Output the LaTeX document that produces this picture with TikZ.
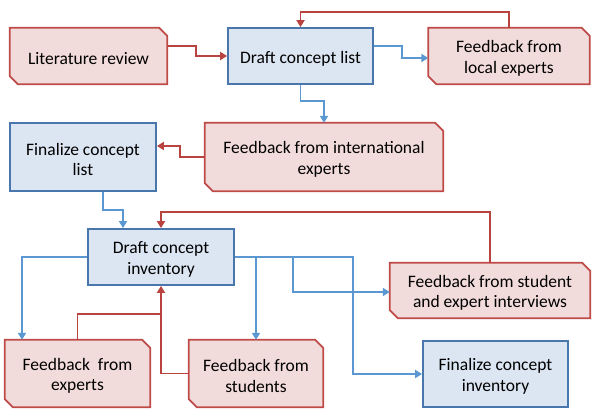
\documentclass[tikz,border=0pt]{standalone}
\usepackage{fontspec}
\setmainfont{Carlito}
\usetikzlibrary{arrows.meta,backgrounds,calc}
\definecolor{rbord}{HTML}{BE4B48}
\definecolor{rfill}{HTML}{F2DCDB}
\definecolor{bbord}{HTML}{4A76AE}
\definecolor{bfill}{HTML}{DCE6F2}
\definecolor{barr}{HTML}{5B97D0}
\definecolor{rarr}{HTML}{B8433F}
\tikzset{
  x=1pt,y=-1pt,
  txtstyle/.style={inner sep=0pt, align=center, font=\fontsize{17.5}{20.5}\selectfont, yshift=-2.5pt},
  box/.style={inner sep=0pt, label={[txtstyle]center:{#1}}},
  bluebox/.style={box=#1, draw=bbord, fill=bfill, line width=1.8pt},
  redbox/.style={box=#1},
  barrow/.style={draw=barr, line width=1.8pt, -{Triangle[length=7pt,width=8pt]}},
  rarrow/.style={draw=rarr, line width=1.8pt, -{Triangle[length=7pt,width=8pt]}},
  redlink/.style={draw=rarr, line width=1.8pt},
}
\newcommand{\cutshape}[1]{%
  \draw[draw=rbord, fill=rfill, line width=1.8pt, line join=miter]
    (#1.north west) -- ([xshift=-8pt]#1.north east) -- ([yshift=-8pt]#1.north east)
    -- (#1.south east) -- ([xshift=8pt]#1.south west) -- ([yshift=8pt]#1.south west) -- cycle;}
\begin{document}
\begin{tikzpicture}
\useasboundingbox (0,0) rectangle (592,413);
% nodes
\node[redbox={Literature review}, minimum width=157pt, minimum height=56pt] (lit) at (88.5,56) {};
\node[bluebox={Draft concept list}, minimum width=145pt, minimum height=56pt] (dcl) at (300.5,56) {};
\node[redbox={Feedback from\\local experts}, minimum width=161pt, minimum height=56pt] (loc) at (509,56) {};
\node[bluebox={Finalize concept\\list}, minimum width=146pt, minimum height=68pt] (fcl) at (83,157) {};
\node[redbox={Feedback from international\\experts}, minimum width=238pt, minimum height=68pt] (intl) at (324,157) {};
\node[bluebox={Draft concept\\inventory}, minimum width=146pt, minimum height=56pt] (dci) at (161,257) {};
\node[redbox={Feedback from student\\and expert interviews}, minimum width=200pt, minimum height=55pt] (int) at (490,290.5) {};
\node[redbox={Feedback\ \ from\\experts}, minimum width=145pt, minimum height=67pt] (fe) at (77.5,373.5) {};
\node[redbox={Feedback from\\students}, minimum width=134pt, minimum height=67pt] (fs) at (256,373.5) {};
\node[bluebox={Finalize concept\\inventory}, minimum width=145pt, minimum height=66pt] (fci) at (495.5,374) {};
\begin{scope}[on background layer]
\cutshape{lit}\cutshape{loc}\cutshape{intl}\cutshape{int}\cutshape{fe}\cutshape{fs}
\end{scope}
% connectors
\draw[rarrow] ([yshift=10pt]lit.east) -- ++(29,0) |- (dcl.west);
\draw[rarrow] (loc.north) -- ++(0,-16) -| (dcl.north);
\draw[barrow] ([yshift=10pt]dcl.east) -- ++(28,0) |- ([yshift=-2pt]loc.west);
\draw[barrow] (dcl.south) -- ++(0,16) -| (intl.north);
\draw[rarrow] (intl.west) -- ++(-25,0) |- ([yshift=11pt]fcl.east);
\draw[barrow] ([xshift=20pt]fcl.south) -- ++(0,18) -| ([xshift=-38pt]dci.north);
\draw[rarrow] (int.north) -- ++(0,-51) -| (dci.north);
\draw[barrow] (dci.west) -| ([xshift=-55.5pt]fe.north);
\coordinate (b1) at ($(dci.east)+(58,0)$);
\draw[barrow] (dci.east) -- ++(118,0) |- (fci.west);
\draw[barrow] (dci.east) -| (fs.north);
\draw[barrow] (b1) |- ([yshift=-1.5pt]int.west);
\coordinate (j1) at ($(dci.south)+(0,28)$);
\draw[rarrow] (fs.west) -| (dci.south);
\draw[redlink] (fe.north) |- (j1);
\end{tikzpicture}
\end{document}
